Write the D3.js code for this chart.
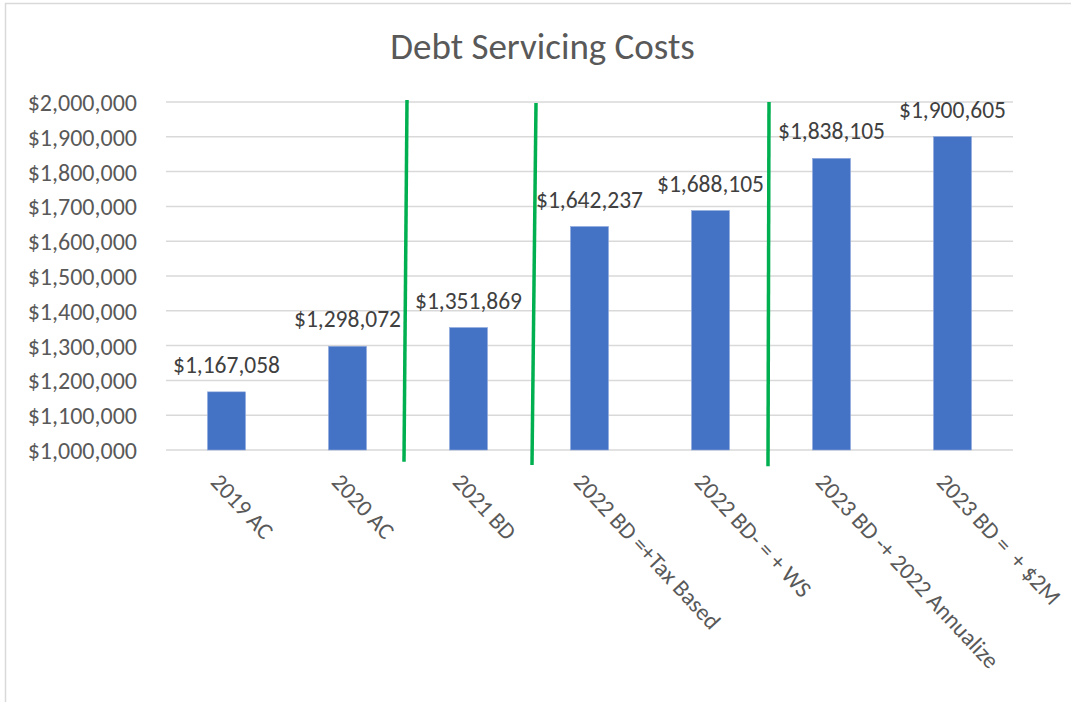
<!DOCTYPE html>
<html lang="en">
<head>
<meta charset="UTF-8">
<title>Debt Servicing Costs</title>
<style type="text/css">
	body { margin: 0; background: #fff; }
	svg, svg text { font-family: Carlito, Calibri, "Liberation Sans", Arial, sans-serif; }
	.title { font-size: 37px; fill: #595959; }
	.axis text { font-size: 24px; fill: #595959; font-family: Carlito, Calibri, sans-serif; }
	.axis path, .axis line { display: none; }
	.grid line { stroke: #d9d9d9; stroke-width: 1.5px; }
	.value { font-size: 23.5px; fill: #404040; }
	.cat { font-size: 23.5px; fill: #595959; }
</style>
<script src="https://cdn.jsdelivr.net/npm/d3@7"></script>
</head>
<body>
<script type="text/javascript">

var categories = ['2019 AC', '2020 AC', '2021 BD', '2022 BD =+Tax Based', '2022 BD- = + WS',
	'2023 BD -+ 2022 Annualize', '2023 BD =  + $2M'];
var costs = [1167058, 1298072, 1351869, 1642237, 1688105, 1838105, 1900605];
var yTicks = [1000000, 1100000, 1200000, 1300000, 1400000, 1500000, 1600000, 1700000, 1800000, 1900000, 2000000];
// green divider lines drawn over the chart, placed on the boundary after a category
var dividerAfter = ['2020 AC', '2021 BD', '2022 BD- = + WS'];
var dividerTop = [2006000, 1997000, 2000000];
var dividerBottom = [966000, 957000, 953000];
var dividerShiftTop = [-1, 7, -2];
var dividerShiftBottom = [-4, 3, -3];

var width = 1071, height = 702;
var margin = {top: 102, right: 58, bottom: 252, left: 166};
var w = width - margin.left - margin.right;
var h = height - margin.top - margin.bottom;

var svg = d3.select('body').append('svg')
	.attr('width', width)
	.attr('height', height);

// chart frame
svg.append('rect')
	.attr('x', 5.5).attr('y', 3.5)
	.attr('width', width + 10).attr('height', height - 2.5)
	.attr('fill', 'none')
	.attr('stroke', '#d9d9d9')
	.attr('stroke-width', 1.5);

svg.append('text')
	.attr('class', 'title')
	.attr('x', width / 2 + 7)
	.attr('y', 59)
	.attr('text-anchor', 'middle')
	.text('Debt Servicing Costs');

var g = svg.append('g').attr('transform', 'translate(' + margin.left + ',' + margin.top + ')');

var x = d3.scaleBand().domain(categories).range([0, w]).padding(0);
var y = d3.scaleLinear().domain([1000000, 2000000]).range([h, 0]);

g.append('g').attr('class', 'grid')
	.selectAll('line')
	.data(yTicks)
	.enter().append('line')
	.attr('x1', 0).attr('x2', w)
	.attr('y1', d => y(d)).attr('y2', d => y(d));

var fmt = d3.format('$,');

var yAxis = g.append('g').attr('class', 'y axis')
	.attr('transform', 'translate(-29,0)')
	.call(d3.axisLeft(y).tickValues(yTicks).tickFormat(fmt).tickSize(0).tickPadding(0));
yAxis.attr('font-family', null).attr('font-size', null);
yAxis.selectAll('text').attr('dy', '0.35em');

var barW = x.bandwidth() * 0.314;

g.selectAll('.bar')
	.data(costs)
	.enter().append('rect')
	.attr('class', 'bar')
	.attr('x', (d, i) => x(categories[i]) + x.bandwidth() / 2 - barW / 2)
	.attr('y', d => y(d))
	.attr('width', barW)
	.attr('height', d => h - y(d))
	.attr('fill', '#4472c4')
	.attr('stroke', '#8faadc')
	.attr('stroke-width', 0.6);

g.selectAll('.value')
	.data(costs)
	.enter().append('text')
	.attr('class', 'value')
	.attr('x', (d, i) => x(categories[i]) + x.bandwidth() / 2)
	.attr('y', d => y(d) - 19)
	.attr('text-anchor', 'middle')
	.text(d => fmt(d));

g.selectAll('.cat')
	.data(categories)
	.enter().append('text')
	.attr('class', 'cat')
	.attr('transform', d => 'translate(' + (x(d) + x.bandwidth() / 2 - 17) + ',' + (h + 33) + ') rotate(47)')
	.style('white-space', 'pre')
	.text(d => d);

g.selectAll('.divider')
	.data(dividerAfter)
	.enter().append('line')
	.attr('class', 'divider')
	.attr('x1', (d, i) => x(d) + x.bandwidth() + dividerShiftTop[i])
	.attr('y1', (d, i) => y(dividerTop[i]))
	.attr('x2', (d, i) => x(d) + x.bandwidth() + dividerShiftBottom[i])
	.attr('y2', (d, i) => y(dividerBottom[i]))
	.attr('stroke', '#00b050')
	.attr('stroke-width', 3.5);

</script>
</body>
</html>
